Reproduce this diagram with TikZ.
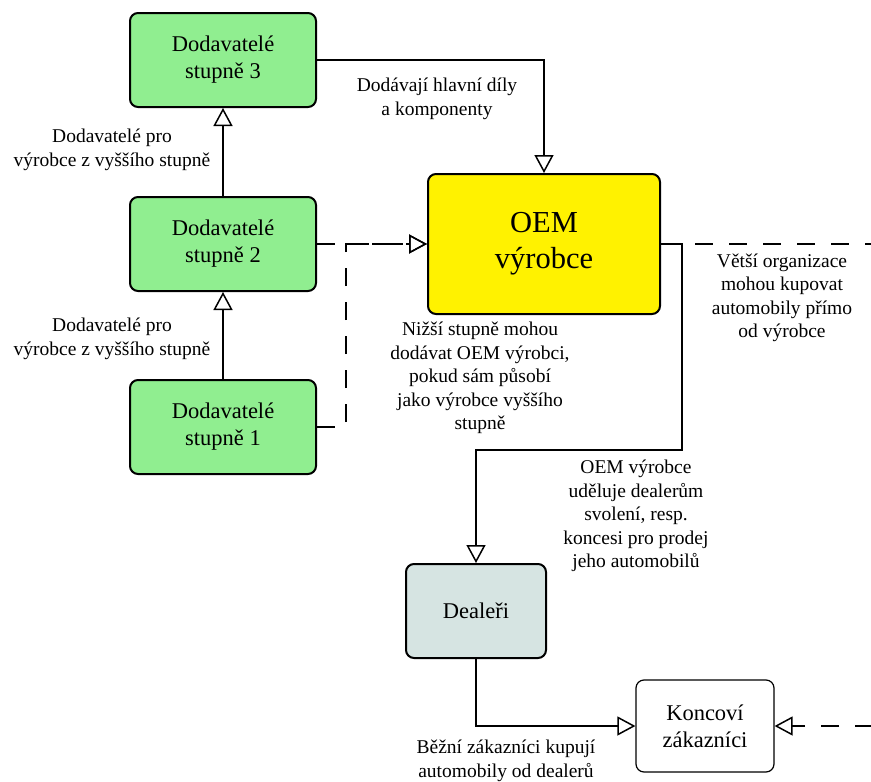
\documentclass[tikz,border=0pt]{standalone}
\usepackage{fontspec}
\setmainfont{Liberation Serif}
\usepackage{xcolor}
\usetikzlibrary{arrows.meta}

\definecolor{suppgreen}{RGB}{144,238,144}
\definecolor{dealfill}{RGB}{214,228,226}

\tikzset{
  box/.style={draw, line width=2pt, rounded corners=8pt, align=center,
    font=\fontsize{22.5}{27}\selectfont},
  supplier/.style={box, fill=suppgreen, minimum width=186pt, minimum height=94pt},
  conn/.style={line width=1.5pt, -{Triangle[open,length=18pt,width=19pt]}},
  dconn/.style={conn, dash pattern=on 18pt off 16pt},
  lab/.style={align=center, font=\fontsize{19.5}{23.5}\selectfont}
}

\begin{document}
\begin{tikzpicture}[x=1pt, y=-1pt]
        \clip (0,0) rectangle (871,782);
        % Supplier boxes
        \foreach \n/\y in {3/60, 2/244, 1/427} {
            \node[supplier] (s\n) at (223,\y) {Dodavatelé\\stupně \n};
        }
        % Manufacturer, dealers, customers
        \node[box, fill=yellow, minimum width=232pt, minimum height=140pt,
              font=\fontsize{30.5}{36}\selectfont] (oem) at (544,244) {OEM\\výrobce};
        \node[box, fill=dealfill, minimum width=140pt, minimum height=94pt] (deal) at (476,611) {Dealeři};
        \node[box, line width=1.2pt, fill=white, minimum width=138pt, minimum height=92pt] (cust) at (705,726) {Koncoví\\zákazníci};
        % Bend points
        \coordinate (j1) at (346,244);
        \coordinate (k1) at (682,450);
        \coordinate (k2) at (900,726);
        % Connectors
        \draw[conn] (s2.north) -- (s3.south);
        \draw[conn] (s1.north) -- (s2.south);
        \draw[conn] (s3.east) -| (oem.north);
        \draw[dconn] (s2.east) -- (oem.west);
        \draw[dconn] (s1.east) -| (j1) -- (oem.west);
        \draw[conn] (oem.east) -| (k1) -| (deal.north);
        \draw[dconn] (oem.east) -| (k2) -- (cust.east);
        \draw[conn] (deal.south) |- (cust.west);
        % Labels
        \node[lab] (l1) at (437,99) {Dodávají hlavní díly\\a komponenty};
        \node[lab] (l2) at (112,150) {Dodavatelé pro\\výrobce z vyššího stupně};
        \node[lab] (l3) at (112,339) {Dodavatelé pro\\výrobce z vyššího stupně};
        \node[lab] (l4) at (480,378) {Nižší stupně mohou\\dodávat OEM výrobci,\\pokud sám působí\\jako výrobce vyššího\\stupně};
        \node[lab] (l5) at (782,298) {Větší organizace\\mohou kupovat\\automobily přímo\\od výrobce};
        \node[lab] (l6) at (636,516) {OEM výrobce\\uděluje dealerům\\svolení, resp.\\koncesi pro prodej\\jeho automobilů};
        \node[lab] (l7) at (506,761) {Běžní zákazníci kupují\\automobily od dealerů};
    \end{tikzpicture}
\end{document}
